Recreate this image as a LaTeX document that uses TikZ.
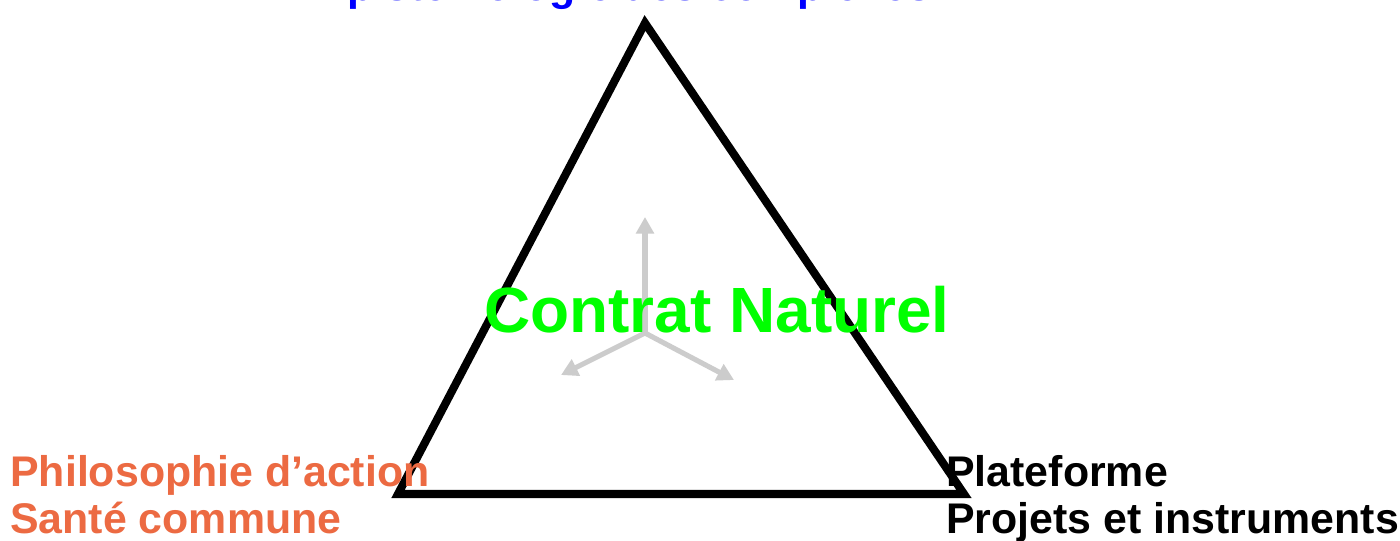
\documentclass[tikz,border=0pt]{standalone}
\usepackage{fontspec}
\setmainfont{Liberation Sans}
\usetikzlibrary{arrows.meta}
\definecolor{topblue}{HTML}{0000FF}
\definecolor{actorange}{HTML}{EC6A42}
\definecolor{contratgreen}{HTML}{00FF00}
\definecolor{axisgray}{HTML}{CCCCCC}

\begin{document}
\begin{tikzpicture}[x=0.02cm,y=-0.02cm,
  lbl/.style={font=\fontsize{24.4}{27}\selectfont\bfseries,inner sep=0pt},
  bigtxt/.style={font=\fontsize{36.4}{40}\selectfont\bfseries,inner sep=0pt,text=contratgreen},
  side/.style={line width=4.6pt,line join=miter,black},
  axis/.style={-{Triangle[length=9.5pt,width=10pt]},line width=2.9pt,axisgray}]
  \fill[white] (0,0) rectangle (1400,541);
  \useasboundingbox (0,0) rectangle (1400,541);

  % ===== triangle =====
  \coordinate (ctop) at (645,23);
  \coordinate (cleft) at (398,494);
  \coordinate (cright) at (964,494);
  \draw[side] (ctop) -- (cleft) -- (cright) -- cycle;

  % ===== grey axes (drawn under the title) =====
  \coordinate (hub) at (645,333);
  \coordinate (tipup) at (645,217);
  \coordinate (tipl) at (561,375);
  \coordinate (tipr) at (734,380);
  \draw[axis] (hub) -- (tipup);
  \draw[axis] (hub) -- (tipl);
  \draw[axis] (hub) -- (tipr);
  \node[bigtxt,anchor=base] (contrat) at (717,332) {Contrat Naturel};

  % ===== corner labels =====
  \node[lbl,text=topblue,anchor=base] (episteme) at (625,0) {Épistémologie des complexes};
  \node[lbl,text=actorange,anchor=base west] (philo) at (10,486) {Philosophie d’action};
  \node[lbl,text=actorange,anchor=base west] (sante) at (10,533) {Santé commune};
  \node[lbl,anchor=base west] (plat) at (946,486) {Plateforme};
  \node[lbl,anchor=base west] (proj) at (946,533) {Projets et instruments};
\end{tikzpicture}
\end{document}
